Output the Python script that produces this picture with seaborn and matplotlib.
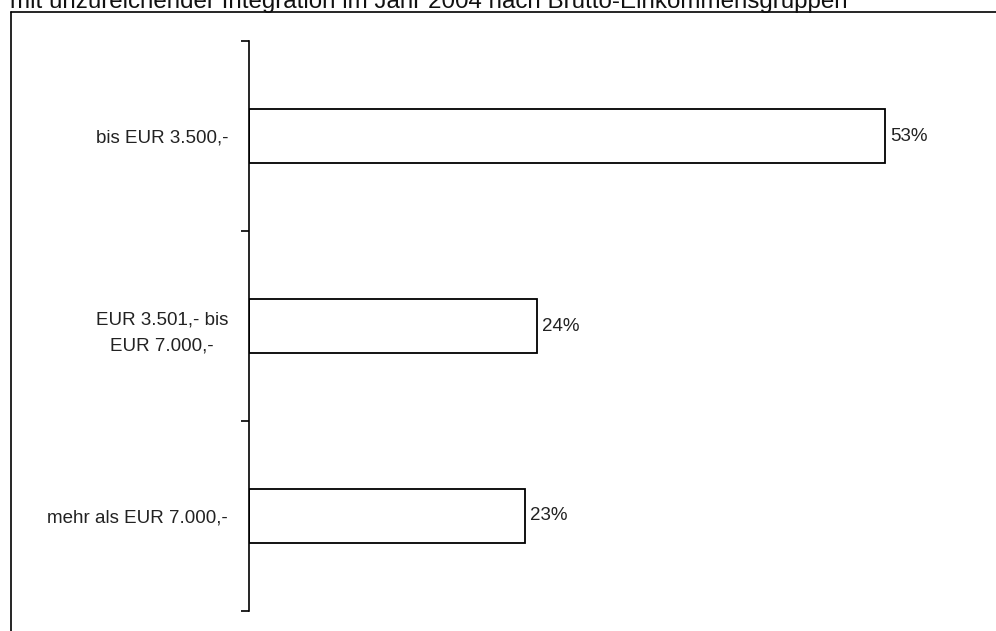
import seaborn as sns
import matplotlib.pyplot as plt
from matplotlib.lines import Line2D

categories = ['bis EUR 3.500,-', 'EUR 3.501,- bis\nEUR 7.000,-', 'mehr als EUR 7.000,-']
values = [53, 24, 23]
title = 'mit unzureichender Integration im Jahr 2004 nach Brutto-Einkommensgruppen'


def create_graphic():
    sns.set_style('white')
    plt.rcParams['font.family'] = ['Liberation Sans', 'DejaVu Sans']

    fig = plt.figure(figsize=(9.96, 6.31), dpi=100)
    ax = fig.add_axes([249 / 996, 1 - 611 / 631, 720 / 996, 570 / 631])

    sns.barplot(x=values, y=categories, ax=ax, color='white', edgecolor='black',
                linewidth=1.3, width=0.284, orient='h')

    for p, v in zip(ax.patches, values):
        ax.annotate(f'{v}%', (p.get_width(), p.get_y() + p.get_height() / 2),
                    xytext=(3.5, 0), textcoords='offset points', ha='left', va='center',
                    fontsize=13.5, color='#222222')

    ax.set_xlim(0, 60)
    ax.set_ylim(2.5, -0.5)
    sns.despine(ax=ax, top=True, right=True, bottom=True, left=False)
    ax.spines['left'].set_color('black')
    ax.spines['left'].set_linewidth(1.2)
    ax.set_xticks([])
    ax.set_xlabel('')
    ax.set_ylabel('')
    ax.set_yticks([0, 1, 2])
    ax.set_yticklabels(categories, fontsize=13.5, color='#222222', ha='right')
    for lbl in ax.get_yticklabels():
        lbl.set_multialignment('center')
        lbl.set_linespacing(1.75)
    ax.tick_params(axis='y', which='major', length=0, pad=15)
    ax.set_yticks([-0.5, 0.5, 1.5, 2.5], minor=True)
    ax.tick_params(axis='y', which='minor', length=6, width=1.2, color='black', left=True)

    # frame around chart area and cut-off title
    fig.add_artist(Line2D([11 / 996, 11 / 996], [0, 1 - 12 / 631], color='black', lw=1.2))
    fig.add_artist(Line2D([11 / 996, 1], [1 - 12 / 631, 1 - 12 / 631], color='black', lw=1.2))
    fig.text(10 / 996, 1 - 8 / 631, title, fontsize=17.4, ha='left', va='baseline',
             color='#111111')

    fig.savefig('out.png', dpi=100)


if __name__ == '__main__':
    create_graphic()
